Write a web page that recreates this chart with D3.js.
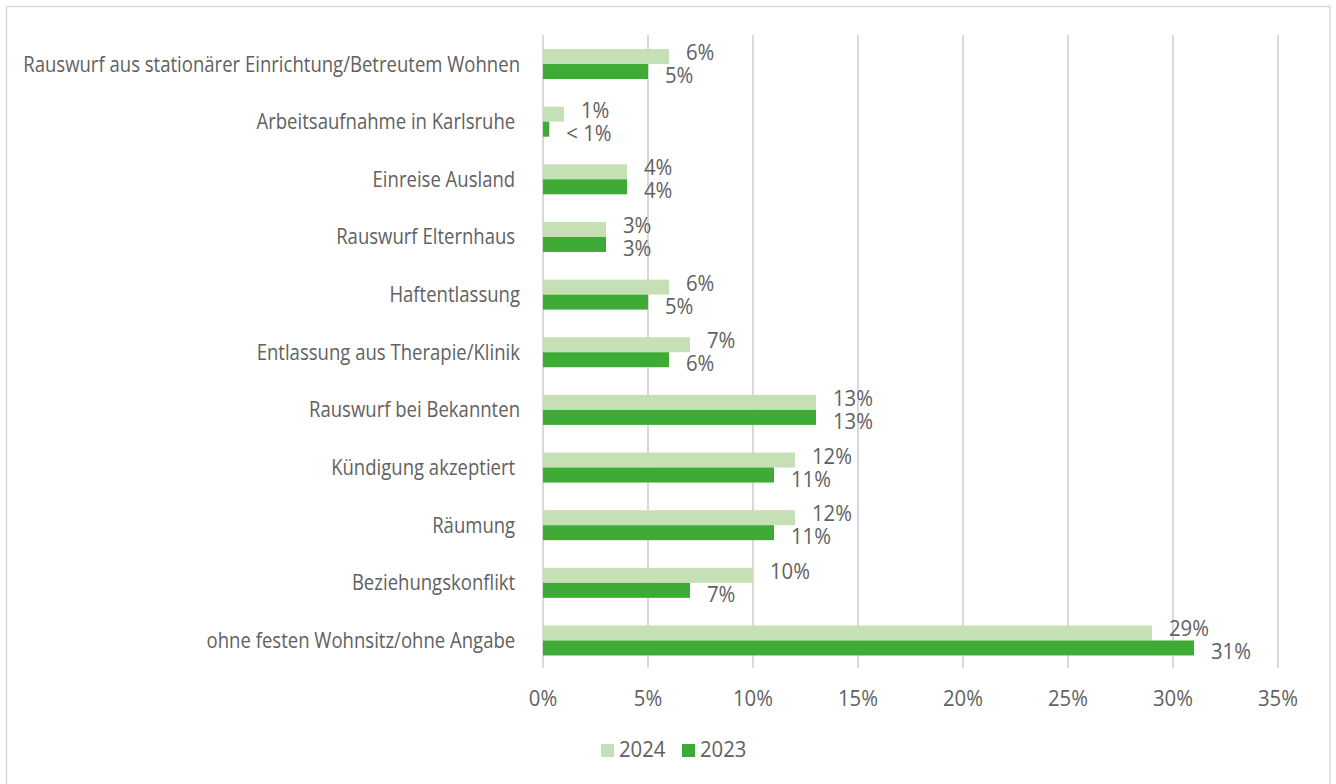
<!DOCTYPE html>
<html>
<head>
<meta charset="utf-8">
<script src="https://cdn.jsdelivr.net/npm/d3@7/dist/d3.min.js"></script>
<style>
  html, body { margin: 0; padding: 0; background: #fff; }
  svg text { font-family: "Open Sans", "Noto Sans", sans-serif; font-weight: 400; fill: #616161; white-space: pre; }
</style>
</head>
<body>
<svg id="chart" width="1336" height="784"></svg>
<script>
const categories = [
  "Rauswurf aus stationärer Einrichtung/Betreutem Wohnen",
  "Arbeitsaufnahme in Karlsruhe ",
  "Einreise Ausland ",
  "Rauswurf Elternhaus ",
  "Haftentlassung",
  "Entlassung aus Therapie/Klinik",
  "Rauswurf bei Bekannten",
  "Kündigung akzeptiert ",
  "Räumung ",
  "Beziehungskonflikt ",
  "ohne festen Wohnsitz/ohne Angabe "
];
const values2024 = [6, 1, 4, 3, 6, 7, 13, 12, 12, 10, 29];
const values2023 = [5, 0.3, 4, 3, 5, 6, 13, 11, 11, 7, 31];
const labels2024 = ["6%", "1%", "4%", "3%", "6%", "7%", "13%", "12%", "12%", "10%", "29%"];
const labels2023 = ["5%", "< 1%", "4%", "3%", "5%", "6%", "13%", "11%", "11%", "7%", "31%"];
const xTicks = [0, 5, 10, 15, 20, 25, 30, 35];
const seriesNames = ["2024", "2023"];
const seriesColors = ["#c5e0b4", "#3dab36"];

const svg = d3.select("#chart");
const FS = 21;

// border
svg.append("rect").attr("x", 6.5).attr("y", 6.5).attr("width", 1323.5).attr("height", 800)
  .attr("fill", "none").attr("stroke", "#d9d9d9").attr("stroke-width", 1.5);

const x = d3.scaleLinear().domain([0, 35]).range([543, 1278]);
const y = d3.scaleBand().domain(categories).range([35.2, 669.3]).paddingInner(0.48).paddingOuter(0.24);
const sub = d3.scaleBand().domain(seriesNames).range([0, y.bandwidth()]);

// measure condensing factor
const probe = svg.append("text").attr("font-size", FS).text(categories[0]);
const catLen = probe.node().getComputedTextLength();
probe.text("30%");
const numLen = probe.node().getComputedTextLength();
probe.remove();
const fCat = 497 / catLen;
const fNum = Math.min(1, 40 / numLen);

// gridlines
svg.append("g").selectAll("line").data(xTicks).join("line")
  .attr("x1", d => x(d)).attr("x2", d => x(d))
  .attr("y1", 35).attr("y2", 668)
  .attr("stroke", "#d9d9d9").attr("stroke-width", 2);

// tick labels
svg.append("g").selectAll("text").data(xTicks).join("text")
  .attr("transform", d => `translate(${x(d)},706) scale(${fNum},1)`)
  .attr("text-anchor", "middle").attr("font-size", FS)
  .text(d => d + "%");

// category labels
svg.append("g").selectAll("text").data(categories).join("text")
  .attr("transform", d => `translate(520,${y(d) + y.bandwidth() / 2 + 7.5}) scale(${fCat},1)`)
  .attr("text-anchor", "end").attr("font-size", FS)
  .text(d => d);

const series = [
  { name: "2024", values: values2024, labels: labels2024, color: seriesColors[0], dy: 3.5 },
  { name: "2023", values: values2023, labels: labels2023, color: seriesColors[1], dy: 11.5 }
];

series.forEach(s => {
  const g = svg.append("g");
  g.selectAll("rect").data(categories).join("rect")
    .attr("x", x(0))
    .attr("y", (d) => y(d) + sub(s.name))
    .attr("width", (d, i) => x(s.values[i]) - x(0))
    .attr("height", sub.bandwidth())
    .attr("fill", s.color);
  g.selectAll("text").data(categories).join("text")
    .attr("transform", (d, i) => `translate(${x(s.values[i]) + 17},${y(d) + sub(s.name) + sub.bandwidth() / 2 + s.dy}) scale(${fNum},1)`)
    .attr("font-size", FS)
    .text((d, i) => s.labels[i]);
});

// legend
const legend = svg.append("g");
const legendItems = [{ x: 601, name: seriesNames[0], color: seriesColors[0] }, { x: 682, name: seriesNames[1], color: seriesColors[1] }];
legendItems.forEach(it => {
  legend.append("rect").attr("x", it.x).attr("y", 744).attr("width", 13).attr("height", 13).attr("fill", it.color);
  legend.append("text").attr("transform", `translate(${it.x + 18},757) scale(${fNum},1)`)
    .attr("font-size", FS).text(it.name);
});
</script>
</body>
</html>
